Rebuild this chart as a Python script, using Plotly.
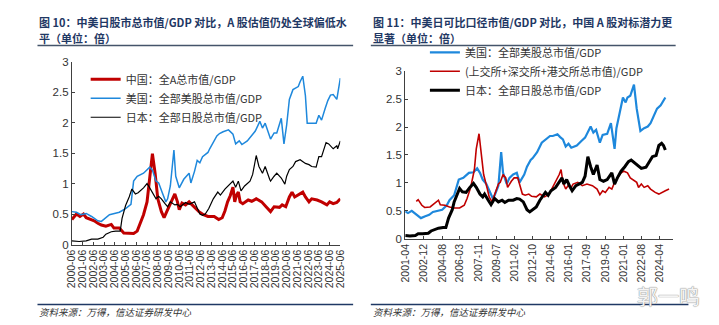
import plotly.graph_objects as go

W, H = 719, 325

# ---------------- Left chart (图10) ----------------
left_ticks = ["2000-06", "2001-06", "2002-06", "2003-06", "2004-06", "2005-06", "2006-06",
              "2007-06", "2008-06", "2009-06", "2010-06", "2011-06", "2012-06", "2013-06",
              "2014-06", "2015-06", "2016-06", "2017-06", "2018-06", "2019-06", "2020-06",
              "2021-06", "2022-06", "2023-06", "2024-06", "2025-06"]

cn_l_dates = ["2000-06", "2000-11", "2001-03", "2001-07", "2001-10", "2002-04", "2002-07", "2002-11",
              "2003-03", "2003-08", "2004-02", "2004-05", "2004-11", "2005-04", "2005-10", "2006-03",
              "2006-07", "2006-11", "2007-02", "2007-06", "2007-09", "2007-12", "2008-03", "2008-06",
              "2008-10", "2009-01", "2009-04", "2009-07", "2009-09", "2010-01", "2010-04", "2010-06",
              "2010-09", "2011-01", "2011-05", "2011-11", "2012-04", "2012-09", "2013-02", "2013-09",
              "2014-02", "2014-06", "2014-09", "2014-12", "2015-03", "2015-06", "2015-08", "2015-10",
              "2015-12", "2016-02", "2016-05", "2016-11", "2017-03", "2017-08", "2018-02", "2018-07",
              "2018-12", "2019-04", "2019-10", "2020-01", "2020-05", "2020-09", "2020-12", "2021-03",
              "2021-07", "2021-12", "2022-03", "2022-07", "2022-10", "2023-04", "2023-09", "2024-03",
              "2024-06", "2024-10", "2025-02", "2025-06"]
cn_l_vals = [0.41, 0.50, 0.46, 0.50, 0.44, 0.41, 0.39, 0.35,
             0.32, 0.30, 0.33, 0.27, 0.27, 0.19, 0.18, 0.18,
             0.22, 0.38, 0.49, 0.70, 1.15, 1.49, 1.17, 0.75,
             0.54, 0.44, 0.54, 0.64, 0.70, 0.83, 0.70, 0.57,
             0.68, 0.65, 0.70, 0.62, 0.54, 0.49, 0.46, 0.46,
             0.41, 0.44, 0.55, 0.70, 0.80, 0.94, 0.70, 0.81,
             0.86, 0.70, 0.67, 0.73, 0.71, 0.75, 0.70, 0.62,
             0.54, 0.62, 0.61, 0.65, 0.62, 0.78, 0.86, 0.78,
             0.81, 0.86, 0.78, 0.70, 0.75, 0.73, 0.70, 0.65,
             0.70, 0.67, 0.69, 0.75]

us_l_dates = ["2000-06", "2000-11", "2001-04", "2001-10", "2002-04", "2002-11", "2003-03", "2003-12",
              "2004-11", "2005-06", "2005-12", "2006-03", "2006-07", "2007-02", "2007-09", "2007-12",
              "2008-04", "2008-07", "2008-11", "2009-03", "2009-05", "2009-08", "2009-12", "2010-02",
              "2010-06", "2010-11", "2011-05", "2011-07", "2011-11", "2012-02", "2012-05", "2012-08",
              "2013-02", "2013-04", "2013-12", "2014-03", "2014-07", "2014-10", "2015-01", "2015-06",
              "2015-09", "2016-01", "2016-04", "2016-10", "2017-03", "2017-07", "2017-12", "2018-03",
              "2018-06", "2018-12", "2019-04", "2019-07", "2019-12", "2020-03", "2020-06", "2020-09",
              "2021-01", "2021-04", "2021-07", "2021-09", "2021-12", "2022-03", "2022-05", "2022-10",
              "2023-03", "2023-06", "2023-09", "2024-01", "2024-04", "2024-07", "2024-10", "2025-02",
              "2025-06"]
us_l_vals = [0.54, 0.53, 0.49, 0.51, 0.46, 0.39, 0.38, 0.49,
             0.53, 0.59, 0.66, 1.04, 1.12, 1.17, 1.27, 1.22,
             1.04, 1.01, 0.85, 0.70, 0.75, 0.96, 1.55, 1.12,
             0.93, 1.07, 1.17, 1.01, 1.20, 1.38, 1.34, 1.44,
             1.51, 1.57, 1.78, 1.82, 1.85, 1.86, 1.88, 1.81,
             1.65, 1.70, 1.64, 1.70, 1.78, 1.86, 2.02, 1.91,
             1.99, 1.73, 1.83, 1.83, 2.07, 1.65, 1.96, 2.38,
             2.54, 2.57, 2.59, 2.67, 2.76, 2.44, 1.99, 1.99,
             1.99, 2.12, 2.04, 2.23, 2.36, 2.45, 2.46, 2.38,
             2.73]

jp_l_dates = ["2000-06", "2001-02", "2001-10", "2002-04", "2002-11", "2003-05", "2003-08", "2004-02",
              "2004-07", "2004-12", "2005-02", "2005-06", "2005-10", "2006-01", "2006-05", "2006-08",
              "2007-02", "2007-06", "2007-09", "2008-01", "2008-04", "2008-07", "2008-10", "2009-02",
              "2009-05", "2009-08", "2010-01", "2010-04", "2010-07", "2011-01", "2011-05", "2011-11",
              "2012-02", "2012-05", "2012-08", "2012-11", "2013-03", "2013-08", "2014-01", "2014-04",
              "2014-09", "2015-02", "2015-06", "2015-09", "2015-12", "2016-03", "2016-07", "2017-01",
              "2017-04", "2017-08", "2017-11", "2018-03", "2018-06", "2018-11", "2018-12", "2019-04",
              "2019-07", "2019-12", "2020-04", "2020-06", "2020-09", "2021-01", "2021-04", "2021-09",
              "2022-03", "2022-07", "2022-10", "2023-03", "2023-06", "2023-09", "2024-02", "2024-05",
              "2024-10", "2025-02", "2025-03", "2025-06"]
jp_l_vals = [0.06, 0.05, 0.06, 0.09, 0.09, 0.12, 0.17, 0.21,
             0.22, 0.22, 0.43, 0.64, 0.78, 0.91, 0.83, 0.85,
             0.93, 1.00, 0.93, 0.83, 0.75, 0.79, 0.75, 0.67,
             0.62, 0.70, 0.65, 0.66, 0.62, 0.69, 0.66, 0.70,
             0.59, 0.50, 0.48, 0.50, 0.59, 0.75, 0.86, 0.81,
             0.91, 0.99, 1.04, 0.94, 1.04, 0.88, 0.96, 1.04,
             1.15, 1.46, 1.28, 1.17, 1.28, 1.07, 1.04, 1.12,
             1.17, 1.09, 0.99, 1.12, 1.23, 1.28, 1.36, 1.39,
             1.33, 1.31, 1.28, 1.27, 1.44, 1.44, 1.67, 1.65,
             1.57, 1.62, 1.57, 1.70]

# ---------------- Right chart (图11) ----------------
right_ticks = ["2001-04", "2002-12", "2004-08", "2006-03", "2007-11", "2009-07", "2011-02",
               "2012-10", "2014-06", "2016-01", "2017-09", "2019-05", "2021-01", "2022-08", "2024-04"]

us_r_dates = ["2001-04", "2001-07", "2001-11", "2002-04", "2002-09", "2003-01", "2003-06", "2003-10",
              "2004-03", "2004-08", "2005-01", "2005-04", "2005-09", "2006-02", "2006-07", "2007-01",
              "2007-06", "2007-10", "2008-01", "2008-04", "2008-08", "2008-12", "2009-03", "2009-05",
              "2009-09", "2009-12", "2010-02", "2010-06", "2010-09", "2011-01", "2011-05", "2011-08",
              "2012-01", "2012-04", "2012-08", "2012-10", "2013-03", "2013-08", "2014-01", "2014-05",
              "2014-08", "2015-01", "2015-04", "2015-07", "2015-10", "2016-01", "2016-04", "2016-10",
              "2017-03", "2017-07", "2018-01", "2018-04", "2018-07", "2018-11", "2019-02", "2019-07",
              "2019-11", "2020-03", "2020-05", "2020-09", "2020-12", "2021-03", "2021-05", "2021-08",
              "2021-12", "2022-03", "2022-07", "2022-11", "2023-03", "2023-06", "2023-09", "2024-01",
              "2024-05", "2024-08", "2024-10"]
us_r_vals = [0.49, 0.46, 0.50, 0.43, 0.37, 0.40, 0.43, 0.48,
             0.50, 0.52, 0.60, 0.69, 0.78, 1.06, 1.09, 1.18,
             1.19, 1.26, 1.18, 1.06, 0.98, 0.83, 0.72, 0.78,
             0.95, 1.55, 1.18, 0.98, 1.09, 1.15, 1.18, 1.01,
             1.15, 1.29, 1.41, 1.44, 1.55, 1.72, 1.78, 1.84,
             1.84, 1.87, 1.82, 1.78, 1.65, 1.70, 1.63, 1.67,
             1.75, 1.81, 2.01, 1.90, 1.95, 1.72, 1.86, 1.88,
             2.07, 1.61, 1.98, 2.33, 2.53, 2.44, 2.53, 2.56,
             2.76, 2.33, 1.93, 1.98, 2.01, 2.07, 2.18, 2.33,
             2.39, 2.47, 2.53]

cn_r_dates = ["2002-04", "2002-06", "2002-10", "2003-01", "2003-07", "2003-12", "2004-04", "2004-06",
              "2004-11", "2005-04", "2005-09", "2006-03", "2006-08", "2006-11", "2007-03", "2007-07",
              "2007-09", "2007-12", "2008-03", "2008-05", "2008-09", "2008-11", "2009-02", "2009-06",
              "2009-09", "2009-11", "2010-02", "2010-05", "2010-07", "2010-11", "2011-02", "2011-06",
              "2011-08", "2011-11", "2012-02", "2012-06", "2012-09", "2013-02", "2013-06", "2013-11",
              "2014-04", "2014-08", "2014-12", "2015-03", "2015-05", "2015-07", "2015-10", "2016-01",
              "2016-04", "2016-06", "2016-11", "2017-04", "2017-09", "2018-03", "2018-08", "2018-11",
              "2019-02", "2019-05", "2019-09", "2019-12", "2020-03", "2020-06", "2020-10", "2021-01",
              "2021-05", "2021-08", "2021-11", "2022-03", "2022-05", "2022-08", "2022-11", "2023-03",
              "2023-06", "2023-11", "2024-03", "2024-07", "2024-10", "2025-02"]
cn_r_vals = [0.67, 0.70, 0.60, 0.56, 0.57, 0.63, 0.69, 0.61,
             0.60, 0.57, 0.55, 0.55, 0.60, 0.72, 0.92, 1.24,
             1.61, 1.88, 1.41, 1.15, 0.89, 0.75, 0.66, 0.83,
             0.98, 1.01, 1.15, 1.09, 0.92, 1.03, 1.09, 1.09,
             0.98, 0.80, 0.78, 0.80, 0.76, 0.75, 0.80, 0.75,
             0.80, 0.92, 1.06, 1.15, 1.24, 1.01, 0.89, 0.96,
             0.92, 0.98, 1.01, 0.95, 0.98, 0.95, 0.89, 0.79,
             0.86, 0.83, 0.92, 0.89, 1.01, 1.09, 1.18, 1.21,
             1.18, 1.09, 1.06, 1.01, 0.92, 0.98, 0.92, 0.95,
             0.89, 0.83, 0.80, 0.84, 0.86, 0.89]

jp_r_dates = ["2001-04", "2001-09", "2002-03", "2002-06", "2002-11", "2003-05", "2003-08", "2003-12",
              "2004-04", "2004-09", "2004-12", "2005-03", "2005-07", "2005-09", "2006-01", "2006-03",
              "2006-06", "2006-10", "2007-02", "2007-06", "2007-09", "2008-01", "2008-04", "2008-06",
              "2008-10", "2009-01", "2009-05", "2009-09", "2010-01", "2010-04", "2010-08", "2011-01",
              "2011-05", "2011-08", "2011-12", "2012-04", "2012-07", "2012-10", "2013-02", "2013-06",
              "2013-09", "2013-12", "2014-03", "2014-06", "2014-11", "2015-03", "2015-06", "2015-08",
              "2015-11", "2016-02", "2016-05", "2016-09", "2016-12", "2017-04", "2017-07", "2017-10",
              "2018-01", "2018-04", "2018-08", "2018-11", "2019-03", "2019-07", "2019-12", "2020-03",
              "2020-06", "2020-10", "2021-02", "2021-06", "2021-09", "2022-01", "2022-05", "2022-08",
              "2023-01", "2023-05", "2023-08", "2023-12", "2024-03", "2024-06", "2024-08", "2024-10"]
jp_r_vals = [0.06, 0.05, 0.06, 0.09, 0.09, 0.10, 0.14, 0.17,
             0.19, 0.20, 0.20, 0.37, 0.52, 0.66, 0.83, 0.90,
             0.84, 0.83, 0.92, 0.99, 0.92, 0.80, 0.75, 0.80,
             0.69, 0.61, 0.72, 0.66, 0.69, 0.65, 0.69, 0.69,
             0.72, 0.71, 0.66, 0.52, 0.48, 0.52, 0.57, 0.69,
             0.75, 0.83, 0.78, 0.86, 0.92, 1.01, 1.09, 0.98,
             1.06, 0.95, 0.86, 0.95, 0.98, 1.01, 1.12, 1.47,
             1.29, 1.15, 1.32, 1.06, 1.03, 1.06, 1.18, 0.98,
             1.09, 1.21, 1.29, 1.38, 1.41, 1.35, 1.29, 1.26,
             1.28, 1.38, 1.47, 1.49, 1.67, 1.71, 1.67, 1.59]

RED = "#C00000"
BLUE = "#1E88DC"
BLACK = "#000000"
NAVY = "#1F3864"
CJK = "Noto Sans CJK SC"
LAT = "Liberation Sans, Arial, sans-serif"

fig = go.Figure()

# left traces
fig.add_trace(go.Scatter(x=cn_l_dates, y=cn_l_vals, mode="lines", name="中国：全A总市值/GDP",
                         line=dict(color=RED, width=3), xaxis="x", yaxis="y", legend="legend"))
fig.add_trace(go.Scatter(x=us_l_dates, y=us_l_vals, mode="lines", name="美国：全部美股总市值/GDP",
                         line=dict(color=BLUE, width=1.5), xaxis="x", yaxis="y", legend="legend"))
fig.add_trace(go.Scatter(x=jp_l_dates, y=jp_l_vals, mode="lines", name="日本：全部日股总市值/GDP",
                         line=dict(color=BLACK, width=1.2), xaxis="x", yaxis="y", legend="legend"))

# right traces
fig.add_trace(go.Scatter(x=us_r_dates, y=us_r_vals, mode="lines", name="美国：全部美股总市值/GDP",
                         line=dict(color=BLUE, width=2.2), xaxis="x2", yaxis="y2", legend="legend2"))
fig.add_trace(go.Scatter(x=cn_r_dates, y=cn_r_vals, mode="lines", name="(上交所+深交所+港交所总市值)/GDP",
                         line=dict(color=RED, width=1.6), xaxis="x2", yaxis="y2", legend="legend2"))
fig.add_trace(go.Scatter(x=jp_r_dates, y=jp_r_vals, mode="lines", name="日本：全部日股总市值/GDP",
                         line=dict(color=BLACK, width=3), xaxis="x2", yaxis="y2", legend="legend2"))

axis_common = dict(showgrid=False, zeroline=False, showline=True, linecolor="#404040", linewidth=1,
                   ticks="inside", ticklen=3, tickcolor="#404040")

fig.update_layout(
    width=W, height=H, margin=dict(l=0, r=0, t=0, b=0),
    paper_bgcolor="white", plot_bgcolor="white",
    font=dict(family=CJK, size=11, color="#333333"),
    xaxis=dict(domain=[66 / W, 339 / W], type="date", range=["2000-06-01", "2025-06-01"],
               tickmode="array", tickvals=left_ticks, ticktext=left_ticks, tickangle=-90,
               tickfont=dict(family=LAT, size=10.5, color="#333333"), anchor="y", **axis_common),
    yaxis=dict(domain=[1 - 247.7 / H, 1 - 57.7 / H], range=[0, 3], dtick=0.5, tick0=0,
               tickfont=dict(family=LAT, size=11.5, color="#333333"), anchor="x", **axis_common),
    xaxis2=dict(domain=[405 / W, 677 / W], type="date", range=["2001-04-01", "2025-06-01"],
                tickmode="array", tickvals=right_ticks, ticktext=right_ticks, tickangle=-90,
                tickfont=dict(family=LAT, size=10.5, color="#333333"), anchor="y2", **axis_common),
    yaxis2=dict(domain=[1 - 241.7 / H, 1 - 67.7 / H], range=[0, 3], dtick=0.5, tick0=0,
                tickfont=dict(family=LAT, size=11.5, color="#333333"), anchor="x2", **axis_common),
    legend=dict(x=80 / W, y=1 - 61 / H, xanchor="left", yanchor="top", bgcolor="rgba(0,0,0,0)",
                font=dict(family=CJK, size=11, color="#333333"), itemwidth=30, tracegroupgap=0),
    legend2=dict(x=425 / W, y=1 - 33 / H, xanchor="left", yanchor="top", bgcolor="rgba(0,0,0,0)",
                 font=dict(family=CJK, size=11, color="#333333"), itemwidth=30, tracegroupgap=0),
    showlegend=True,
)

title_font = dict(family=CJK, size=11, color=NAVY, weight="bold")
annots = [
    ("图 10：中美日股市总市值/GDP 对比，A 股估值仍处全球偏低水", 31, 16.5),
    ("平（单位：倍）", 31, 33),
    ("图 11：中美日可比口径市值/GDP 对比，中国 A 股对标潜力更", 370, 16.5),
    ("显著（单位：倍）", 370, 33),
]
for txt, px, py in annots:
    fig.add_annotation(text=txt, x=px / W, y=1 - py / H, xref="paper", yref="paper",
                       xanchor="left", yanchor="middle", showarrow=False, font=title_font)

for px in (31, 370):
    fig.add_annotation(text="<i>资料来源：万得，信达证券研发中心</i>", x=px / W, y=1 - 318 / H,
                       xref="paper", yref="paper", xanchor="left", yanchor="middle", showarrow=False,
                       font=dict(family=CJK, size=9.5, color="#333333"))

fig.add_annotation(text="郭一鸣", x=673 / W, y=1 - 300 / H, xref="paper", yref="paper",
                   xanchor="center", yanchor="middle", showarrow=False,
                   font=dict(family=CJK, size=21, color="#f4f4f4",
                             shadow="0px 0px 1px #8a8a8a, 0px 0px 1px #8a8a8a"))

# decorative rules
for x0, x1 in ((31, 352), (370, 680)):
    fig.add_shape(type="line", xref="paper", yref="paper", x0=x0 / W, x1=x1 / W,
                  y0=1 - 41 / H, y1=1 - 41 / H, line=dict(color="#44546A", width=1.5))
for x0, x1 in ((31, 352), (370, 693)):
    fig.add_shape(type="line", xref="paper", yref="paper", x0=x0 / W, x1=x1 / W,
                  y0=1 - 310 / H, y1=1 - 310 / H, line=dict(color=NAVY, width=1.5))

fig.write_html("out.html")
